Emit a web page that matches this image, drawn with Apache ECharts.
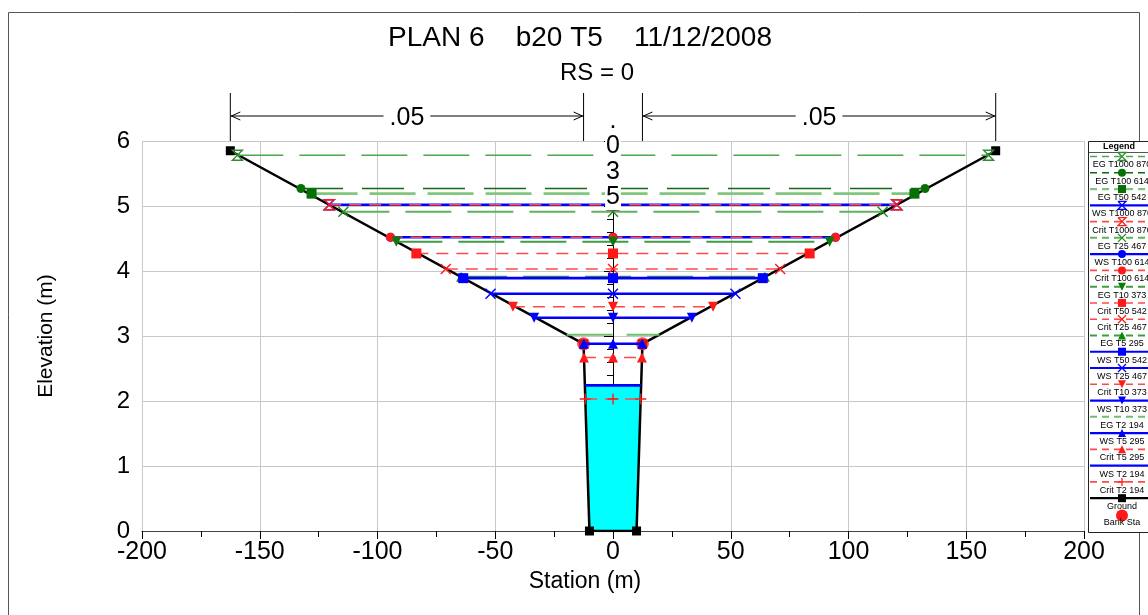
<!DOCTYPE html>
<html>
<head>
<meta charset="utf-8">
<script src="https://cdn.jsdelivr.net/npm/echarts@6/dist/echarts.min.js"></script>
<style>
    html, body { margin: 0; padding: 0; background: #fff; }
    #chart { width: 1148px; height: 615px; }
</style>
</head>
<body>
<div id="chart"></div>
<script>
const FONT = 'Liberation Sans, Arial, sans-serif';

// ground profile (station m, elevation m)
const groundStation = [-162.5, -12.5, -10, 10, 12.5, 162.5];
const groundElev = [5.85, 2.88, 0, 0, 2.88, 5.85];
const bankStation = [-12.5, 12.5];
const bankElev = [2.88, 2.88];
const manningN = ['.05', '.035', '.05'];

// water surface profiles, in legend order
const profileNames = [
    'EG T1000 870', 'EG T100 614', 'EG T50 542', 'WS T1000 870', 'Crit T1000 870',
    'EG T25 467', 'WS T100 614', 'Crit T100 614', 'EG T10 373', 'Crit T50 542',
    'Crit T25 467', 'EG T5 295', 'WS T50 542', 'WS T25 467', 'Crit T10 373',
    'WS T10 373', 'EG T2 194', 'WS T5 295', 'Crit T5 295', 'WS T2 194', 'Crit T2 194'
];
const profileElev = [
    5.78, 5.27, 5.19, 5.02, 5.02,
    4.91, 4.52, 4.52, 4.45, 4.27,
    4.03, 3.91, 3.89, 3.65, 3.45,
    3.28, 3.02, 2.88, 2.67, 2.24, 2.03
];
// half top width of each profile (left edge -w, right edge +w)
const profileHalfWidth = [
    159.5, 132.5, 128, 120.5, 120.5,
    114.5, 94.5, 94.5, 92, 83.5,
    71, 64.5, 63.6, 52, 42.5,
    33.5, 19.7, 12.4, 12.3, 11.9, 11.8
];
const profileMarker = [
    'hourglass', 'circle', 'rect', 'hourglass', 'hourglass',
    'x', 'circle', 'circle', 'dtri', 'rect',
    'x', 'tri', 'rect', 'x', 'dtri',
    'dtri', 'none', 'tri', 'tri', 'none', 'plus'
];
const fillProfile = 'WS T2 194';

// styles
const WS_LOOK = { line: '#0000ff', width: 2.6, dash: null, mark: '#0000ff' };
const CRIT_LOOK = { line: '#ff4a4a', width: 1.6, dash: [12, 8], mark: '#ff1a1a' };
const EG_LOOK = {
    'EG T1000 870': { line: '#4fa84f', width: 1.5, dash: [46, 16], mark: '#2e8b2e' },
    'EG T100 614': { line: '#0c6c0c', width: 1.5, dash: [42, 19], mark: '#067006' },
    'EG T50 542': { line: '#80c680', width: 2.6, dash: [46, 12], mark: '#067006' },
    'EG T25 467': { line: '#5fb35f', width: 2, dash: [46, 16], mark: '#1d8a1d' },
    'EG T10 373': { line: '#3f9f3f', width: 2, dash: [46, 16], mark: '#0a7a0a' },
    'EG T5 295': { line: '#3f9f3f', width: 2, dash: [46, 16], mark: '#0a8a0a' },
    'EG T2 194': { line: '#6fbd6f', width: 2, dash: [46, 14], mark: '#0a8a0a' }
};

const lookFor = (name) => {
    if (name.indexOf('WS') === 0) {
        return WS_LOOK;
    }
    if (name.indexOf('Crit') === 0) {
        return CRIT_LOOK;
    }
    return EG_LOOK[name];
};

const markerSymbol = {
    hourglass: 'path://M0,0L10,0L0,10L10,10Z',
    x: 'path://M0,0L10,10M10,0L0,10',
    plus: 'path://M5,0L5,10M0,5L10,5',
    circle: 'circle',
    rect: 'rect',
    tri: 'triangle',
    dtri: 'triangle',
    none: 'none'
};
const markerSize = { hourglass: 10, x: 10, plus: 11, circle: 9, rect: 10, tri: 10, dtri: 10, none: 0 };
const isOutline = (m) => m === 'hourglass' || m === 'x' || m === 'plus';

const profileSeries = () => profileNames.map((name, i) => {
    const look = lookFor(name);
    const m = profileMarker[i];
    const w = profileHalfWidth[i];
    const e = profileElev[i];
    return {
        name: name,
        type: 'line',
        z: 4,
        data: [[-w, e], [0, e], [w, e]],
        symbol: markerSymbol[m],
        symbolSize: markerSize[m],
        symbolRotate: m === 'dtri' ? 180 : 0,
        showAllSymbol: true,
        lineStyle: {
            color: look.line,
            width: look.width,
            type: look.dash ? look.dash : 'solid'
        },
        itemStyle: isOutline(m)
            ? { color: 'rgba(0,0,0,0)', borderColor: look.mark, borderWidth: 1.4 }
            : { color: look.mark, borderWidth: 0 }
    };
});

const fillSeries = () => {
    const k = profileNames.indexOf(fillProfile);
    const w = profileHalfWidth[k];
    const e = profileElev[k];
    const pts = [[groundStation[2], groundElev[2]], [-w, e], [w, e], [groundStation[3], groundElev[3]]];
    return {
        type: 'custom',
        z: 1,
        silent: true,
        data: [[0, 0]],
        renderItem: function (params, api) {
            return {
                type: 'polygon',
                shape: { points: pts.map((p) => api.coord(p)) },
                style: { fill: '#00ffff' }
            };
        }
    };
};

const chartOpt = () => ({
    animation: false,
    backgroundColor: '#fff',
    grid: { left: 142, right: 64, top: 141, bottom: 84 },
    xAxis: {
        type: 'value',
        min: -200,
        max: 200,
        interval: 50,
        name: 'Station (m)',
        nameLocation: 'middle',
        nameGap: 38,
        nameTextStyle: { color: '#000', fontSize: 23, fontFamily: FONT, padding: [0, 56, 0, 0] },
        axisLine: { onZero: false, lineStyle: { color: '#444', width: 1 } },
        axisTick: { length: 8, lineStyle: { color: '#000' } },
        minorTick: { show: true, splitNumber: 2, length: 6, lineStyle: { color: '#000' } },
        splitLine: { show: true, lineStyle: { color: '#c8c8c8', width: 1 } },
        axisLabel: { color: '#000', fontSize: 25, fontFamily: FONT, margin: 9 }
    },
    yAxis: {
        type: 'value',
        min: 0,
        max: 6,
        interval: 1,
        name: 'Elevation (m)',
        nameLocation: 'middle',
        nameGap: 85,
        nameTextStyle: { color: '#000', fontSize: 21, fontFamily: FONT },
        axisLine: { show: true, lineStyle: { color: '#000', width: 1 } },
        axisTick: { show: true, length: 9, lineStyle: { color: '#000' } },
        minorTick: { show: true, splitNumber: 5, length: 6, lineStyle: { color: '#000' } },
        splitLine: { show: true, lineStyle: { color: '#c8c8c8', width: 1 } },
        axisLabel: { color: '#000', fontSize: 24, fontFamily: FONT, margin: 12 }
    },
    series: [
        fillSeries(),
        {
            name: 'Ground',
            type: 'line',
            z: 2,
            data: groundStation.map((s, i) => [s, groundElev[i]]),
            symbol: 'rect',
            symbolSize: 9,
            lineStyle: { color: '#000', width: 2.5 },
            itemStyle: { color: '#000' }
        },
        {
            name: 'Bank Sta',
            type: 'scatter',
            z: 3,
            data: bankStation.map((s, i) => [s, bankElev[i]]),
            symbol: 'circle',
            symbolSize: 13,
            itemStyle: { color: '#ff1a1a' }
        }
    ].concat(profileSeries())
});

// legend marker drawn with plain graphic shapes
const markerShapes = (m, cx, cy, size, color) => {
    const h = size / 2;
    const stroke = { stroke: color, lineWidth: 1.3, fill: null };
    if (m === 'circle') {
        return [{ type: 'circle', shape: { cx: cx, cy: cy, r: h }, style: { fill: color } }];
    }
    if (m === 'rect') {
        return [{ type: 'rect', shape: { x: cx - h, y: cy - h, width: size, height: size }, style: { fill: color } }];
    }
    if (m === 'tri') {
        return [{ type: 'polygon', shape: { points: [[cx, cy - h], [cx + h, cy + h], [cx - h, cy + h]] }, style: { fill: color } }];
    }
    if (m === 'dtri') {
        return [{ type: 'polygon', shape: { points: [[cx - h, cy - h], [cx + h, cy - h], [cx, cy + h]] }, style: { fill: color } }];
    }
    if (m === 'hourglass') {
        return [{ type: 'polyline', shape: { points: [[cx - h, cy - h], [cx + h, cy - h], [cx - h, cy + h], [cx + h, cy + h], [cx - h, cy - h]] }, style: stroke }];
    }
    if (m === 'x') {
        return [
            { type: 'line', shape: { x1: cx - h, y1: cy - h, x2: cx + h, y2: cy + h }, style: stroke },
            { type: 'line', shape: { x1: cx + h, y1: cy - h, x2: cx - h, y2: cy + h }, style: stroke }
        ];
    }
    if (m === 'plus') {
        return [
            { type: 'line', shape: { x1: cx, y1: cy - h, x2: cx, y2: cy + h }, style: stroke },
            { type: 'line', shape: { x1: cx - h, y1: cy, x2: cx + h, y2: cy }, style: stroke }
        ];
    }
    return [];
};

const legendGraphics = () => {
    const left = 1089;
    const top = 141;
    const bottom = 532;
    const cx = 1122;
    const step = 16.27;
    const firstText = 165;
    const els = [
        { type: 'rect', z: 10, shape: { x: left - 0.5, y: top + 0.5, width: 90, height: bottom - top }, style: { fill: '#fff', stroke: '#222', lineWidth: 1 } },
        { type: 'text', z: 11, x: cx - 3, y: 147, style: { text: 'Legend', fill: '#000', font: 'bold 9px ' + FONT, align: 'center', verticalAlign: 'middle' } },
        { type: 'line', z: 11, shape: { x1: left, y1: 152.5, x2: 1148, y2: 152.5 }, style: { stroke: '#555', lineWidth: 1 } }
    ];
    const entries = profileNames.map((name, i) => {
        const look = lookFor(name);
        return { name: name, look: look, marker: profileMarker[i] };
    });
    entries.push({ name: 'Ground', look: { line: '#000', width: 2.5, dash: null, mark: '#000' }, marker: 'rect' });
    entries.push({ name: 'Bank Sta', look: null, marker: 'circle' });

    entries.forEach((en, i) => {
        const ty = firstText + step * i;
        const sy = ty - 8.5;
        if (en.look) {
            els.push({
                type: 'line', z: 11,
                shape: { x1: left + 1, y1: sy, x2: 1160, y2: sy },
                style: { stroke: en.look.line, lineWidth: Math.min(en.look.width, 2.2), lineDash: en.look.dash ? [7, 5] : null }
            });
            markerShapes(en.marker, cx, sy, 8, en.look.mark).forEach((s) => {
                s.z = 12;
                els.push(s);
            });
        } else {
            markerShapes('circle', cx, sy + 1, 12, '#ff1a1a').forEach((s) => {
                s.z = 12;
                els.push(s);
            });
        }
        els.push({
            type: 'text', z: 12, x: cx, y: ty,
            style: { text: en.name, fill: '#000', font: '9px ' + FONT, align: 'center', verticalAlign: 'middle' }
        });
    });
    return els;
};

const annotationGraphics = (chart) => {
    const toPx = (x, y) => chart.convertToPixel({ gridIndex: 0 }, [x, y]);
    const yTop = toPx(0, 6)[1];
    const dimY = yTop - 25;
    const tickTop = yTop - 48;
    const last = groundStation.length - 1;
    const xs = [groundStation[0], bankStation[0], bankStation[1], groundStation[last]].map((s) => toPx(s, 6)[0]);
    const els = [];
    const thin = { stroke: '#000', lineWidth: 1 };

    xs.forEach((px) => {
        els.push({ type: 'line', shape: { x1: px, y1: tickTop, x2: px, y2: yTop }, style: thin });
    });

    const dimension = (x1, x2, label) => {
        els.push({ type: 'line', shape: { x1: x1, y1: dimY, x2: x2, y2: dimY }, style: thin });
        els.push({ type: 'polyline', shape: { points: [[x1 + 10, dimY - 4], [x1 + 1, dimY], [x1 + 10, dimY + 4]] }, style: { stroke: '#000', lineWidth: 1, fill: null } });
        els.push({ type: 'polyline', shape: { points: [[x2 - 10, dimY - 4], [x2 - 1, dimY], [x2 - 10, dimY + 4]] }, style: { stroke: '#000', lineWidth: 1, fill: null } });
        els.push({
            type: 'text', x: (x1 + x2) / 2, y: dimY + 2, z: 5,
            style: { text: label, fill: '#000', font: '25px ' + FONT, align: 'center', verticalAlign: 'middle', backgroundColor: '#fff', padding: [0, 6] }
        });
    };
    dimension(xs[0], xs[1], manningN[0]);
    dimension(xs[2], xs[3], manningN[2]);

    els.push({
        type: 'text', x: toPx(0, 6)[0], y: dimY - 8, z: 20,
        style: {
            text: manningN[1].split('').join('\n'),
            fill: '#000', font: '25px ' + FONT, lineHeight: 25.5,
            align: 'center', verticalAlign: 'top', backgroundColor: '#fff', padding: [0, 1]
        }
    });

    // outer frame and titles
    els.push({ type: 'rect', z: 0, shape: { x: 8.5, y: 12.5, width: 1131, height: 700 }, style: { fill: null, stroke: '#555', lineWidth: 1 } });
    els.push({ type: 'text', x: 580, y: 38, style: { text: 'PLAN 6    b20 T5    11/12/2008', fill: '#000', font: '28px ' + FONT, align: 'center', verticalAlign: 'middle' } });
    els.push({ type: 'text', x: 597, y: 73, style: { text: 'RS = 0', fill: '#000', font: '24px ' + FONT, align: 'center', verticalAlign: 'middle' } });
    return els;
};

const chart = echarts.init(document.getElementById('chart'));
chart.setOption(chartOpt());
chart.setOption({ graphic: annotationGraphics(chart).concat(legendGraphics()) });
</script>
</body>
</html>
